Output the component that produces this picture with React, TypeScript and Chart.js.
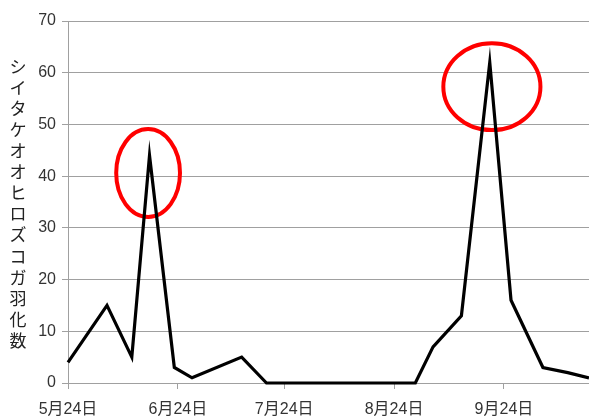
import React, { useEffect, useRef } from "react";
import { Chart, registerables } from "chart.js";

Chart.register(...registerables);

// days since 5/24 and emergence counts
const days = [0, 11, 18, 23, 30, 35, 49, 56, 63, 70, 77, 84, 91, 98, 103, 111, 119, 125, 134, 141, 147];
const counts = [4, 15, 5, 44, 3, 1, 5, 0, 0, 0, 0, 0, 0, 0, 7, 13, 62, 16, 3, 2, 1];

const tickDays = [0, 31, 61, 92, 123];
const tickLabels = ["5月24日", "6月24日", "7月24日", "8月24日", "9月24日"];

const yTitle = "シイタケオオヒロズコガ羽化数";

// highlight ellipses: centre (day, count), radii (days, counts)
const ellipseCx = [22.6, 119.6];
const ellipseCy = [40.6, 57.3];
const ellipseRx = [9.0, 13.7];
const ellipseRy = [8.5, 8.4];

const FONT = "'Liberation Sans', 'Noto Sans CJK JP', sans-serif";

const ellipsePlugin = {
  id: "ellipses",
  beforeDatasetsDraw(chart: any) {
    const { ctx, scales } = chart;
    const x = scales.x;
    const y = scales.y;
    ctx.save();
    ctx.strokeStyle = "#ff0000";
    ctx.lineWidth = 4;
    for (let i = 0; i < ellipseCx.length; i++) {
      const cx = x.getPixelForValue(ellipseCx[i]);
      const cy = y.getPixelForValue(ellipseCy[i]);
      const rx = Math.abs(x.getPixelForValue(ellipseCx[i] + ellipseRx[i]) - cx);
      const ry = Math.abs(y.getPixelForValue(ellipseCy[i] + ellipseRy[i]) - cy);
      ctx.beginPath();
      ctx.ellipse(cx, cy, rx, ry, 0, 0, Math.PI * 2);
      ctx.stroke();
    }
    ctx.restore();
  },
};

const verticalTitlePlugin = {
  id: "vtitle",
  afterDraw(chart: any) {
    const { ctx } = chart;
    ctx.save();
    ctx.fillStyle = "#222";
    ctx.font = `17px ${FONT}`;
    ctx.textAlign = "center";
    ctx.textBaseline = "middle";
    const chars = Array.from(yTitle);
    const startY = 68;
    const pitch = 21.1;
    chars.forEach((c, i) => {
      ctx.fillText(c, 18, startY + i * pitch);
    });
    ctx.restore();
  },
};

export default function App() {
  const ref = useRef<HTMLCanvasElement>(null);
  useEffect(() => {
    if (!ref.current) return;
    const chart = new Chart(ref.current, {
      type: "line",
      data: {
        datasets: [
          {
            data: days.map((d, i) => ({ x: d, y: counts[i] })),
            borderColor: "#000",
            borderWidth: 3.2,
            pointRadius: 0,
            tension: 0,
            fill: false,
            clip: false as any,
          },
        ],
      },
      options: {
        animation: false,
        responsive: true,
        maintainAspectRatio: false,
        layout: { padding: { top: 21, right: 0, left: 0, bottom: 0 } },
        plugins: { legend: { display: false }, tooltip: { enabled: false } },
        scales: {
          x: {
            type: "linear",
            min: 0,
            max: 147,
            afterFit: (s: any) => {
              s.height = 34;
            },
            afterBuildTicks: (s: any) => {
              s.ticks = tickDays.map((v) => ({ value: v }));
            },
            ticks: {
              autoSkip: false,
              maxRotation: 0,
              padding: 11,
              color: "#333",
              font: { size: 16, family: FONT },
              callback: (v: any) => {
                const i = tickDays.indexOf(Number(v));
                return i >= 0 ? tickLabels[i] : "";
              },
            },
            grid: {
              drawOnChartArea: false,
              drawTicks: true,
              tickLength: 6,
              color: "#a0a0a0",
            },
            border: { color: "#a0a0a0", width: 1 },
          },
          y: {
            min: 0,
            max: 70,
            afterFit: (s: any) => {
              s.width = 68;
            },
            ticks: {
              stepSize: 10,
              padding: 6,
              color: "#333",
              font: { size: 16, family: FONT },
            },
            grid: {
              color: "#a0a0a0",
              tickLength: 6,
              lineWidth: 1,
            },
            border: { color: "#a0a0a0", width: 1 },
          },
        },
      },
      plugins: [ellipsePlugin, verticalTitlePlugin],
    });
    return () => chart.destroy();
  }, []);
  return (
    <div style={{ position: "absolute", left: 0, top: 0, width: 589, height: 417, background: "#fff" }}>
      <canvas ref={ref} />
    </div>
  );
}
